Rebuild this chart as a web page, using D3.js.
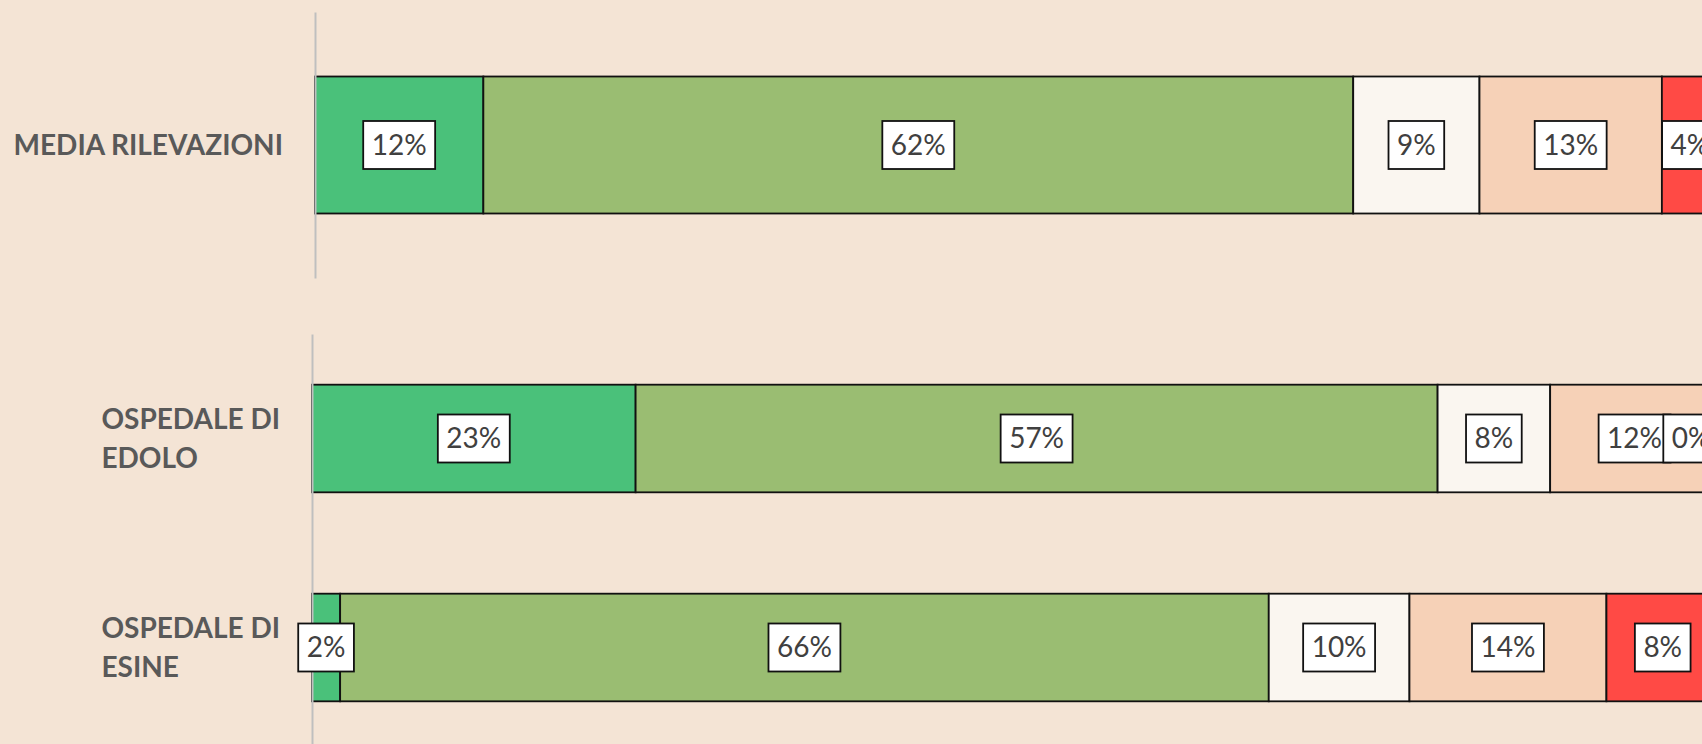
<!DOCTYPE html>
<html>
<head>
<meta charset="utf-8">
<script src="https://cdn.jsdelivr.net/npm/d3@7"></script>
<style>
  body { margin: 0; background: #F4E4D5; }
  svg { display: block; }
</style>
</head>
<body>
<div id="chart"></div>
<script>
// data
const seriesKeys = ["s1", "s2", "s3", "s4", "s5"];
const colours = ["#4AC17A", "#9ABD72", "#FAF6F0", "#F6D1B7", "#FF4A45"];

const topCategories = ["MEDIA RILEVAZIONI"];
const mediaValues = [12, 62, 9, 13, 4];

const bottomCategories = ["OSPEDALE DI EDOLO", "OSPEDALE DI ESINE"];
const edoloValues = [23, 57, 8, 12, 0];
const esineValues = [2, 66, 10, 14, 8];

const width = 1702;
const height = 744;

const svg = d3.select("#chart").append("svg")
    .attr("width", width)
    .attr("height", height);

svg.append("rect")
    .attr("width", width)
    .attr("height", height)
    .attr("fill", "#F4E4D5");

function toRows(categories, valueLists) {
    return categories.map((c, i) => {
        const row = { category: c };
        seriesKeys.forEach((k, j) => row[k] = valueLists[i][j]);
        return row;
    });
}

function wrapLines(text, maxWidth, measure) {
    const words = text.split(" ");
    const lines = [];
    let line = [];
    words.forEach(w => {
        line.push(w);
        measure.text(line.join(" "));
        if (measure.node().getComputedTextLength() > maxWidth && line.length > 1) {
            line.pop();
            lines.push(line.join(" "));
            line = [w];
        }
    });
    lines.push(line.join(" "));
    return lines;
}

function drawPanel(rows, opt) {
    const g = svg.append("g");

    const x = d3.scaleLinear().domain([0, 100]).range(opt.xRange);
    const y = d3.scaleBand()
        .domain(rows.map(d => d.category))
        .range(opt.yRange)
        .paddingInner(0.485)
        .paddingOuter(0.2425);

    const stacked = d3.stack().keys(seriesKeys)(rows);

    const layers = g.selectAll("g.layer").data(stacked)
        .enter().append("g")
        .attr("class", "layer")
        .attr("fill", (d, i) => colours[i]);

    layers.selectAll("rect").data(d => d)
        .enter().append("rect")
        .attr("x", d => x(d[0]))
        .attr("y", d => y(d.data.category))
        .attr("width", d => x(d[1]) - x(d[0]))
        .attr("height", y.bandwidth())
        .attr("stroke", "#111")
        .attr("stroke-width", 1.8);

    // axis on top of the bars
    const yAxis = d3.axisLeft(y).tickSize(0).tickFormat("");
    const axisG = g.append("g")
        .attr("transform", `translate(${opt.xRange[0]},0)`)
        .call(yAxis);
    axisG.select(".domain").attr("stroke", "#BFBFBF").attr("stroke-width", 2);

    // category labels
    const measure = svg.append("text")
        .attr("font-family", "Lato, 'Open Sans', sans-serif")
        .attr("font-weight", "bold")
        .attr("font-size", 28);
    rows.forEach(r => {
        const lines = wrapLines(r.category, opt.wrapWidth, measure);
        let maxW = 0;
        lines.forEach(l => {
            measure.text(l);
            maxW = Math.max(maxW, measure.node().getComputedTextLength());
        });
        const cy = y(r.category) + y.bandwidth() / 2;
        const lineH = 39;
        const first = cy + 9.8 - (lines.length - 1) * lineH / 2;
        const t = g.append("text")
            .attr("font-family", "Lato, 'Open Sans', sans-serif")
            .attr("font-weight", "bold")
            .attr("font-size", 28)
            .attr("fill", "#595959");
        lines.forEach((l, i) => {
            t.append("tspan")
                .attr("x", opt.xRange[0] - 32 - maxW)
                .attr("y", first + i * lineH)
                .text(l);
        });
    });
    measure.remove();

    // value labels in white boxes, kept inside the plot area
    const plotRight = x.range()[1];
    rows.forEach(r => {
        const cy = y(r.category) + y.bandwidth() / 2;
        stacked.forEach(layer => {
            const d = layer.find(e => e.data.category === r.category);
            const cx = (x(d[0]) + x(d[1])) / 2;
            const lg = g.append("g");
            const txt = lg.append("text")
                .attr("font-family", "Lato, 'Open Sans', sans-serif")
                .attr("font-size", 28)
                .attr("fill", "#404040")
                .attr("text-anchor", "middle")
                .attr("dy", "0.35em")
                .text(r[layer.key] + "%");
            const w = txt.node().getComputedTextLength() + 17;
            let left = cx - w / 2;
            if (left + w > plotRight) left = plotRight - w;
            lg.insert("rect", "text")
                .attr("x", left)
                .attr("y", cy - 24)
                .attr("width", w)
                .attr("height", 48)
                .attr("fill", "#fff")
                .attr("stroke", "#111")
                .attr("stroke-width", 1.8);
            txt.attr("x", left + w / 2).attr("y", cy);
        });
    });
}

drawPanel(toRows(topCategories, [mediaValues]), {
    xRange: [315, 1718],
    yRange: [12, 278],
    wrapWidth: 280
});

drawPanel(toRows(bottomCategories, [edoloValues, esineValues]), {
    xRange: [312, 1719],
    yRange: [334, 752],
    wrapWidth: 200
});
</script>
</body>
</html>
